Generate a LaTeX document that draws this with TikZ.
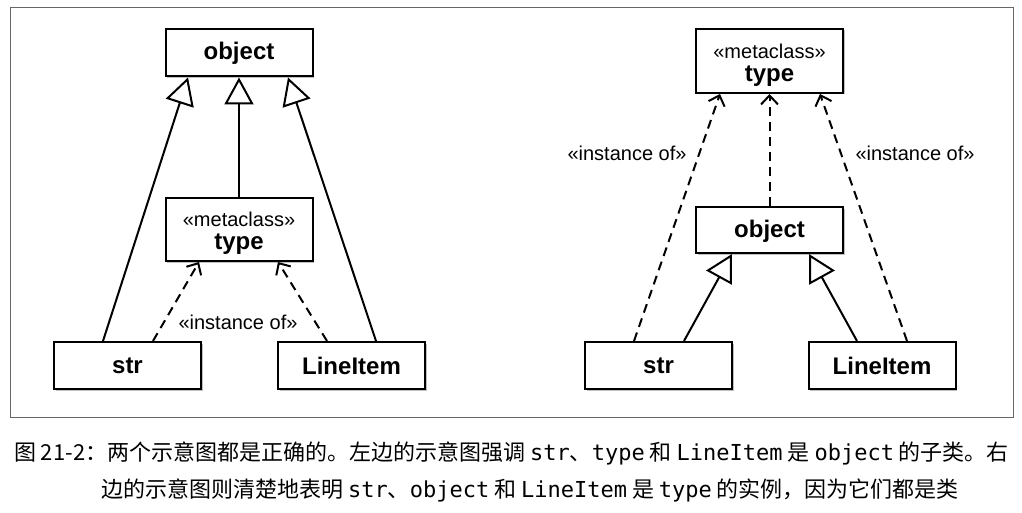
\documentclass[tikz,border=0pt]{standalone}
\usepackage{fontspec}
\setmainfont{Liberation Sans}
\newfontfamily\cjk{Noto Sans CJK SC}
\newfontfamily\codefont{DejaVu Sans Mono}
\usetikzlibrary{arrows.meta,shadows}
\newcommand\metatype[1]{\raisebox{#1}[\height][\depth]{\begin{tabular}{@{}c@{}}{\fontsize{20}{22}\selectfont\mdseries «metaclass»}\\[-3pt]type\end{tabular}}}
\begin{document}
\begin{tikzpicture}[x=1pt,y=-1pt,
  cls/.style={draw=black, line width=2pt, fill=white, minimum width=147pt, minimum height=47pt,
    inner sep=0pt, font=\fontsize{24}{26}\selectfont\bfseries,
    drop shadow={shadow xshift=1.5pt, shadow yshift=-1.5pt, opacity=0.25, fill=black}},
  gen/.style={line width=2pt, -{Triangle[open, length=27pt, width=29pt, line width=2pt]}},
  inst/.style={line width=2pt, dash pattern=on 9pt off 6pt, -{Straight Barb[length=9pt, width=17pt, line width=2pt]}},
  lbl/.style={font=\fontsize{20}{22}\selectfont, inner sep=0pt},
  captext/.style={font=\fontsize{22}{26}\selectfont\cjk, inner sep=0pt, anchor=center}
]
\useasboundingbox (0,0) rectangle (1022,513);
\node[draw=black!60, line width=1pt, minimum width=1003pt, minimum height=409pt, inner sep=0pt] (frame) at (511.5,212.5) {};

% left diagram
\node[cls] (objL) at (239,53) {object};
\node[cls, minimum height=63pt] (typeL) at (239,229.5) {\metatype{-3pt}};
\node[cls] (strL) at (127.5,365.5) {str};
\node[cls] (liL) at (351.5,365.5) {LineItem};

\draw[gen] ([xshift=-24.5pt]strL.north) -- ([xshift=-51pt]objL.south);
\draw[gen] (typeL.north) -- (objL.south);
\draw[gen] ([xshift=24.5pt]liL.north) -- ([xshift=49pt]objL.south);
\draw[inst] ([xshift=25.5pt]strL.north) -- ([xshift=-40pt]typeL.south);
\draw[inst] ([xshift=-24.5pt]liL.north) -- ([xshift=39pt]typeL.south);
\node[lbl] (lblL) at (238,322) {«instance of»};

% right diagram
\node[cls, minimum height=64pt] (typeR) at (769.5,61) {\metatype{-4pt}};
\node[cls, minimum height=46pt] (objR) at (769.5,230) {\raisebox{-1.5pt}[\height][\depth]{object}};
\node[cls] (strR) at (658.5,365.5) {str};
\node[cls] (liR) at (882,365.5) {LineItem};

\draw[inst] ([xshift=-24.5pt]strR.north) -- ([xshift=-49.5pt]typeR.south);
\draw[inst] (objR.north) -- (typeR.south);
\draw[inst] ([xshift=25pt]liR.north) -- ([xshift=50.5pt]typeR.south);
\draw[gen] ([xshift=25.5pt]strR.north) -- ([xshift=-37.5pt]objR.south);
\draw[gen] ([xshift=-25pt]liR.north) -- ([xshift=39.5pt]objR.south);
\node[lbl] (lblR1) at (627,153) {«instance of»};
\node[lbl] (lblR2) at (915,153) {«instance of»};

% caption
\node[captext] (cap1) at (511.5,453) {图 21-2：两个示意图都是正确的。左边的示意图强调 {\codefont str}、{\codefont type} 和 {\codefont LineItem} 是 {\codefont object} 的子类。右};
\node[captext] (cap2) at (530,490) {边的示意图则清楚地表明 {\codefont str}、{\codefont object} 和 {\codefont LineItem} 是 {\codefont type} 的实例，因为它们都是类};
\end{tikzpicture}
\end{document}
